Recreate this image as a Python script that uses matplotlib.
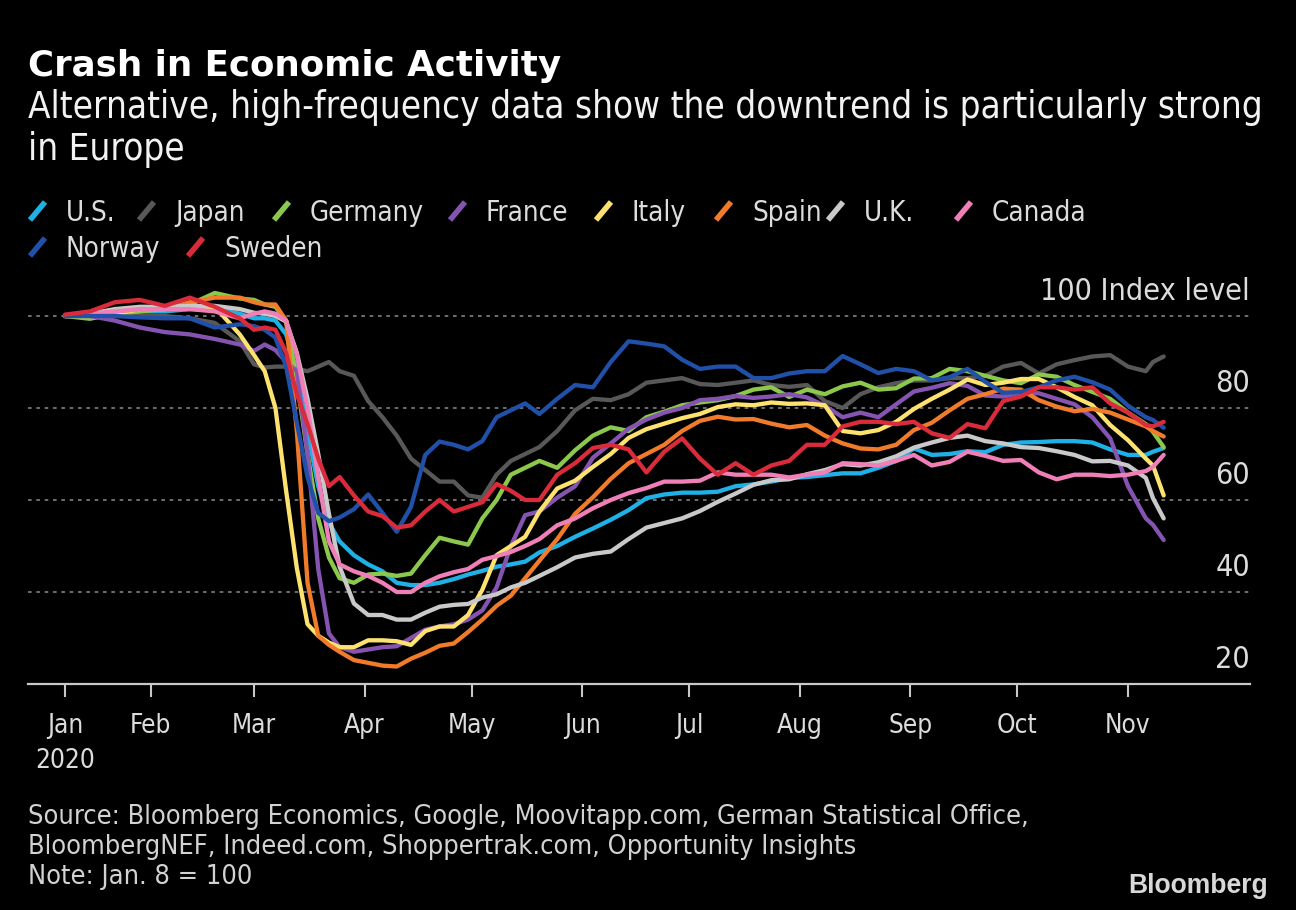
import numpy as np
import matplotlib
matplotlib.use("Agg")
import matplotlib.pyplot as plt
import matplotlib.dates as mdates
import matplotlib.transforms as mtransforms
from matplotlib.lines import Line2D

plt.rcParams['lines.scale_dashes'] = False

# ---------------- data ----------------
countries = ["U.S.", "Japan", "Germany", "France", "Italy", "Spain", "U.K.", "Canada", "Norway", "Sweden"]
line_colors = ["#1fb1e6", "#585858", "#8cc84b", "#8454b0", "#fde26f", "#f07b2a",
               "#c9c9c9", "#f07fb8", "#2050a8", "#d92b3a"]

# days since 2020-01-01 (Jan. 8 = 100)
day_offsets = [7, 14, 21, 28, 35, 42, 49, 56,
               60, 63, 66, 69, 72, 75, 78, 81, 84,
               88, 92, 96, 100, 104, 108, 112, 116, 120, 124, 128, 132, 136, 140,
               145, 150, 155, 160, 165, 170, 175, 180, 185, 190, 195, 200, 205, 210, 215, 220,
               225, 230, 235, 240, 245, 250, 255, 260, 265, 270, 275, 280, 285, 290, 295, 300,
               305, 310, 312, 315]

us = [100, 100, 100.5, 101, 101, 101.5, 101.5, 100.5,
      99.5, 99.5, 99, 96, 88, 75, 63, 55, 51,
      48, 46, 44.5, 42, 41.5, 41.5, 42, 42.8, 43.8, 44.6, 45.5, 46, 46.6, 48.6,
      50, 52, 53.8, 55.7, 57.8, 60.4, 61.2, 61.6, 61.6, 61.8, 63, 63.4, 64, 64.8, 65, 65.4,
      65.8, 65.8, 67, 68.5, 71.2, 69.8, 70, 70.6, 70.4, 72, 72.5, 72.6, 72.8, 72.8, 72.5, 71,
      69.8, 69.8, 70.5, 71.3]
japan = [100, 100, 100, 100, 100, 99.5, 98.5, 94.5,
         89.5, 88.8, 89, 89, 88.5, 88, 89, 90, 88,
         87, 81.5, 78, 74, 69, 66.5, 64, 64, 61, 60.5, 65.5, 68.5, 70, 71.5,
         75, 79.5, 82, 81.7, 83, 85.5, 86, 86.5, 85.2, 85, 85.5, 86, 85, 84.6, 85, 81.5,
         80, 83, 84.5, 85.4, 86, 86, 86.5, 86.5, 87, 89, 89.8, 87.5, 89.5, 90.4, 91.2, 91.5,
         89, 88, 90, 91.2]
germany = [100, 99.4, 100.5, 101, 101.5, 102.5, 105, 103.8,
           103.5, 102.5, 102, 99, 86, 70, 56, 47.5, 43,
           42, 43.8, 44, 43.5, 44, 48, 51.8, 51, 50.3, 56, 60, 65.5, 67, 68.5,
           67, 70.8, 74, 75.8, 75, 78, 79.2, 80.6, 81.2, 81.7, 82.6, 84, 84.5, 82.4, 84, 83,
           84.7, 85.5, 84, 84.3, 86.4, 86.5, 88.5, 88, 87, 86, 85.4, 87.3, 86.8, 85, 83.5, 82,
           79, 76.5, 74.8, 71.5]
france = [100, 100, 99, 97.5, 96.5, 96, 95, 93.8,
          92.4, 93.8, 92.6, 90, 88, 70, 45, 31, 28,
          27, 27.5, 28, 28.2, 30, 31.8, 32.5, 33, 34, 36, 41, 50, 56.7, 57.5,
          60.5, 63, 69.2, 72.3, 75.5, 77.5, 79, 80, 81.7, 82, 82.6, 82.2, 82.5, 83, 82.3, 80.5,
          78, 79, 78, 80.8, 83.6, 84.4, 85.4, 84.8, 82.7, 82.5, 83.3, 83.2, 82, 80.8, 78, 73.4,
          63, 56, 54.6, 51.3]
italy = [100, 100, 100.5, 101.5, 101.5, 102, 102, 96,
         91.5, 88, 80, 62, 45.2, 33, 30.5, 29, 28,
         28, 29.5, 29.5, 29.3, 28.5, 31.5, 32.5, 32.5, 35, 40.5, 48, 50, 52, 57.5,
         62.5, 64.2, 67.2, 70, 73.5, 75.4, 76.6, 77.8, 78.7, 80.2, 80.8, 80.6, 81.2, 80.9, 81, 80.6,
         75, 74.5, 75.2, 77, 79.8, 82, 84, 86.2, 85, 85.5, 86.3, 86.3, 84.5, 82.4, 80.6, 76.3,
         73, 69, 67.5, 61]
spain = [100, 100.5, 101, 101.5, 101.5, 103, 104, 104,
         103, 102.5, 102.5, 99, 75, 42, 30.5, 28.5, 27,
         25.2, 24.6, 24, 23.8, 25.5, 26.8, 28.3, 28.8, 31.3, 34, 37, 39.2, 43, 46.8,
         51.5, 57, 60.6, 64.6, 68, 70, 72, 75, 77.2, 78.1, 77.5, 77.6, 76.6, 75.8, 76.3, 74,
         72.3, 71.2, 71, 72, 75.2, 76.8, 79.5, 82, 83, 84.2, 84, 81.7, 80.3, 79.3, 79.8, 79,
         77.5, 76, 75, 73.8]
uk = [100, 100.5, 101.5, 102, 102, 102.2, 102.2, 101.5,
      100.7, 100.5, 100, 98.8, 92, 82, 70, 57, 45.5,
      37.5, 35, 35, 34, 34, 35.5, 36.8, 37.2, 37.4, 38.8, 39.5, 41, 42, 43.5,
      45.4, 47.5, 48.3, 48.8, 51.5, 54, 55, 56, 57.6, 59.6, 61.4, 63.3, 64.3, 64.5, 65.6, 66.5,
      67.8, 67.5, 68.2, 69.5, 71.4, 72.5, 73.5, 74, 72.8, 72.3, 71.5, 71.3, 70.6, 69.8, 68.4, 68.5,
      67.5, 64.8, 60.4, 56]
canada = [100, 100.5, 101, 101.5, 101.5, 101.5, 101, 99.5,
          100.5, 101, 100.5, 99, 91.5, 80, 65, 51, 46,
          44.5, 43.5, 42, 40, 40, 42, 43.4, 44.3, 45, 47, 47.8, 48.7, 50, 51.5,
          54.5, 56, 58.2, 60, 61.5, 62.6, 64, 64, 64.2, 66, 65.5, 65.5, 65.5, 64.9, 65.5, 66,
          68, 67.8, 67.5, 68.5, 69.8, 67.5, 68.3, 70.5, 69.6, 68.5, 68.7, 66, 64.5, 65.5, 65.5, 65.2,
          65.5, 66.3, 67.2, 69.8]
norway = [100, 100, 100, 99.7, 99.5, 99.5, 97.5, 98.2,
          97.8, 97, 95.3, 89, 76.8, 65, 57.2, 55.4, 56.2,
          58, 61.2, 57.2, 53.1, 58.5, 69.8, 72.7, 72, 71, 72.8, 78, 79.5, 81, 78.7,
          82, 85, 84.5, 90, 94.5, 94, 93.4, 90.5, 88.5, 89, 89, 86.5, 86.5, 87.5, 88, 88,
          91.3, 89.5, 87.6, 88.5, 88, 86, 86.7, 88.5, 85.7, 83.3, 83.5, 84.5, 86, 86.8, 85.6, 84,
          80.5, 78, 77.4, 75.7]
sweden = [100.3, 101, 103, 103.5, 102.2, 104, 102, 99.5,
          97, 97.5, 97, 92, 83, 76.5, 69, 63, 65,
          61, 57.5, 56.5, 54, 54.5, 57.5, 60, 57.5, 58.5, 59.5, 63.5, 62, 60, 60,
          65.5, 68, 71.3, 72, 71, 66, 70.5, 73.4, 69, 65.5, 68, 65.5, 67.5, 68.5, 72, 72,
          76, 77, 77, 76.5, 77, 74.5, 73.5, 76.5, 75.6, 81.5, 82.5, 84.5, 84.5, 84, 84.5, 81,
          79, 76.3, 76, 77]
series = [us, japan, germany, france, italy, spain, uk, canada, norway, sweden]

month_tick_days = [7, 31, 60, 91, 121, 152, 182, 213, 244, 274, 305]
month_labels = ["Jan\n2020", "Feb", "Mar", "Apr", "May", "Jun", "Jul", "Aug", "Sep", "Oct", "Nov"]
y_levels = [20, 40, 60, 80, 100]
y_texts = ["20", "40", "60", "80", "100 Index level"]

title = "Crash in Economic Activity"
subtitle = ["Alternative, high-frequency data show the downtrend is particularly strong",
            "in Europe"]
source_lines = ["Source: Bloomberg Economics, Google, Moovitapp.com, German Statistical Office,",
                "BloombergNEF, Indeed.com, Shoppertrak.com, Opportunity Insights",
                "Note: Jan. 8 = 100"]

# ---------------- figure ----------------
W, H = 1296, 910
fig = plt.figure(figsize=(W / 100, H / 100), dpi=100)
fig.patch.set_facecolor("black")

BODY = dict(family="DejaVu Sans", stretch="condensed")
TXT = "#dcdcdc"

ax_l, ax_r, ax_b, ax_t = 28, 1250, 684, 288.4
ax = fig.add_axes([ax_l / W, 1 - ax_b / H, (ax_r - ax_l) / W, (ax_b - ax_t) / H])
ax.set_facecolor("black")

base = mdates.date2num(np.datetime64("2020-01-01"))
xs = base + np.array(day_offsets, dtype=float)
for name, vals, col in zip(countries, series, line_colors):
    ax.plot(xs, vals, color=col, lw=3.1, solid_joinstyle="round", solid_capstyle="round", zorder=3)

ax.set_xlim(base - 3.36, base + 339.2)
ax.set_ylim(20, 106)

ax.set_yticks([40, 60, 80, 100])
ax.yaxis.grid(True, color="#6e6e6e", linestyle=(0, (2.6, 3.4)), linewidth=1.4)
ax.set_axisbelow(True)
ax.tick_params(axis="y", length=0, labelleft=False, labelright=False)
for s in ["top", "left", "right"]:
    ax.spines[s].set_visible(False)
ax.spines["bottom"].set_color("#c8c8c8")
ax.spines["bottom"].set_linewidth(1.6)

ax.set_xticks(base + np.array(month_tick_days, dtype=float))
ax.set_xticklabels(month_labels, **BODY)
ax.tick_params(axis="x", colors="#c8c8c8", length=9, width=1.5, pad=12, labelcolor=TXT, labelsize=19)

trans = mtransforms.blended_transform_factory(ax.transAxes, ax.transData)
ylab_texts = []
for v, lab in zip(y_levels, y_texts):
    ylab_texts.append(ax.text(1.0, v + 3.5, lab, transform=trans, ha="right", va="baseline",
                              color=TXT, fontsize=19, **BODY))

# titles
t_title = fig.text(28 / W, 1 - 76 / H, title, color="white", fontsize=21, fontweight="bold",
                   family="DejaVu Sans", ha="left", va="baseline")
t_sub1 = fig.text(28 / W, 1 - 118 / H, subtitle[0], color="#f2f2f2", fontsize=21, ha="left",
                  va="baseline", **BODY)
t_sub2 = fig.text(28 / W, 1 - 160 / H, subtitle[1], color="#f2f2f2", fontsize=21, ha="left",
                  va="baseline", **BODY)

# legend (manual, Bloomberg style slashes)
leg_pos = [(66, 221), (175, 221), (310, 221), (486, 221), (632, 221), (752, 221), (864, 221),
           (992, 221), (66, 257), (224, 257)]
leg_texts = []
for (tx, by), name, col in zip(leg_pos, countries, line_colors):
    fig.add_artist(Line2D([(tx - 36) / W, (tx - 21) / W], [1 - (by - 1) / H, 1 - (by - 19) / H],
                          transform=fig.transFigure, color=col, lw=4.0, solid_capstyle="butt"))
    leg_texts.append(fig.text(tx / W, 1 - by / H, name, color=TXT, fontsize=19, ha="left",
                              va="baseline", **BODY))

src_texts = []
for i, line in enumerate(source_lines):
    src_texts.append(fig.text(28 / W, 1 - (824 + 30 * i) / H, line, color="#d2d2d2", fontsize=17,
                              ha="left", va="baseline", **BODY))

t_logo = fig.text(1268 / W, 1 - 893 / H, "Bloomberg", color="#d8d8d8", fontsize=16,
                  fontweight="bold", family="Liberation Sans", ha="right", va="baseline")

# ---------------- size fitting to reference widths ----------------
fig.canvas.draw()
renderer = fig.canvas.get_renderer()


def fit(texts, ref, target_px):
    w = ref.get_window_extent(renderer).width
    s = ref.get_fontsize() * target_px / w
    for t in texts:
        t.set_fontsize(s)
    return s


fit([t_title], t_title, 532)
fit([t_sub1, t_sub2], t_sub1, 1234)
fit(leg_texts, leg_texts[2], 114)
fit(ylab_texts, ylab_texts[-1], 210)
fit(src_texts, src_texts[0], 996)
fit([t_logo], t_logo, 140)
xt = ax.get_xticklabels()
fit(xt, xt[7], 46)
xt[0].set_linespacing(1.45)

fig.savefig("out.png", dpi=100, facecolor="black")
